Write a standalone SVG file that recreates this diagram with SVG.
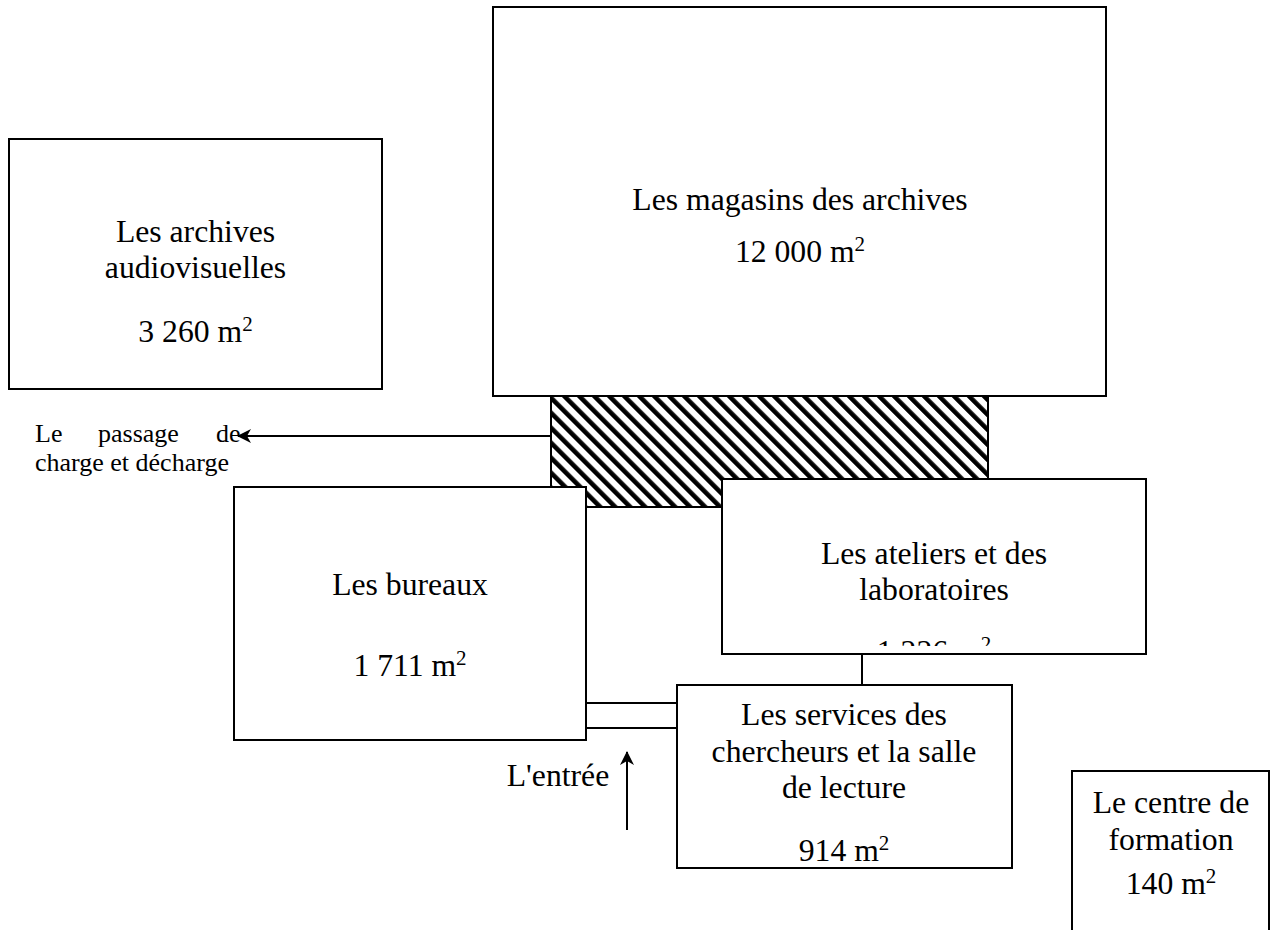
<svg xmlns="http://www.w3.org/2000/svg" width="1277" height="930" viewBox="0 0 1277 930">
<style>
.box{fill:#fff;stroke:#000;stroke-width:2}
.t{font-family:"Liberation Serif","Times New Roman",serif;font-size:31.7px;fill:#000;text-anchor:middle}
.sup{font-size:21px}
.small{font-family:"Liberation Serif","Times New Roman",serif;font-size:26px;fill:#000}
.ln{stroke:#000;stroke-width:2;fill:none}
</style>
<defs>
<pattern id="hatch" patternUnits="userSpaceOnUse" width="10.6" height="10.6" patternTransform="rotate(-45)">
<rect x="0" y="0" width="10.6" height="10.6" fill="#fff"/>
<rect x="0" y="0" width="4.6" height="10.6" fill="#000"/>
</pattern>
<marker id="arr" viewBox="0 0 14 14" refX="13" refY="7" markerWidth="14" markerHeight="14" markerUnits="userSpaceOnUse" orient="auto">
<path d="M0,0 L14,7 L0,14 L4,7 Z" fill="#000"/>
</marker>
<clipPath id="clipAt"><rect x="722" y="479" width="424" height="167"/></clipPath>
</defs>

<g id="passage">
<rect x="551" y="396" width="437" height="111" fill="url(#hatch)" stroke="#000" stroke-width="2"/>
</g>

<g id="magasins">
<rect class="box" x="493" y="7" width="613" height="389"/>
<text class="t" x="800" y="210">Les magasins des archives</text>
<text class="t" x="800" y="262">12 000 m<tspan class="sup" dy="-11">2</tspan></text>
</g>

<g id="audiovisuelles">
<rect class="box" x="9" y="139" width="373" height="250"/>
<text class="t" x="195.5" y="242">Les archives</text>
<text class="t" x="195.5" y="278">audiovisuelles</text>
<text class="t" x="195.5" y="342">3 260 m<tspan class="sup" dy="-11">2</tspan></text>
</g>

<g id="bureaux">
<rect class="box" x="234" y="487" width="352" height="253"/>
<text class="t" x="410" y="595">Les bureaux</text>
<text class="t" x="410" y="676">1 711 m<tspan class="sup" dy="-11">2</tspan></text>
</g>

<g id="ateliers">
<rect class="box" x="722" y="479" width="424" height="175"/>
<text class="t" x="934" y="564">Les ateliers et des</text>
<text class="t" x="934" y="600">laboratoires</text>
<text class="t" x="934" y="662" clip-path="url(#clipAt)">1 226 m<tspan class="sup" dy="-11">2</tspan></text>
</g>

<g id="services">
<rect class="box" x="677" y="685" width="335" height="183"/>
<text class="t" x="844" y="725">Les services des</text>
<text class="t" x="844" y="762">chercheurs et la salle</text>
<text class="t" x="844" y="798">de lecture</text>
<text class="t" x="844" y="861">914 m<tspan class="sup" dy="-11">2</tspan></text>
</g>

<g id="formation">
<rect class="box" x="1072" y="771" width="197" height="180"/>
<text class="t" x="1171" y="813">Le centre de</text>
<text class="t" x="1171" y="850">formation</text>
<text class="t" x="1171" y="894">140 m<tspan class="sup" dy="-11">2</tspan></text>
</g>

<g id="labels">
<text class="small" y="442"><tspan x="35">Le</tspan><tspan x="98">passage</tspan><tspan x="216">de</tspan></text>
<text class="small" x="35" y="471">charge et décharge</text>
<text class="t" x="558" y="786">L'entrée</text>
</g>

<g id="connectors">
<line class="ln" x1="551" y1="436" x2="238" y2="436" marker-end="url(#arr)"/>
<line class="ln" x1="627" y1="830" x2="627" y2="752" marker-end="url(#arr)"/>
<line class="ln" x1="862" y1="654" x2="862" y2="685"/>
<line class="ln" x1="586" y1="703" x2="677" y2="703"/>
<line class="ln" x1="586" y1="728" x2="677" y2="728"/>
</g>
</svg>
